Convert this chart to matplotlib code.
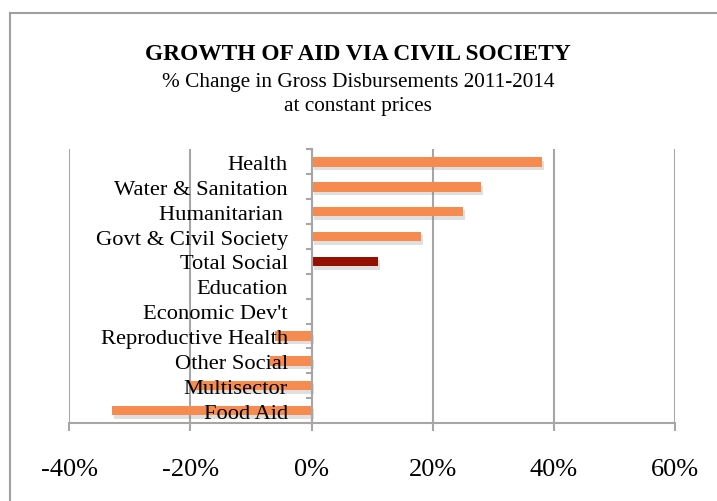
import matplotlib.pyplot as plt
import matplotlib.patheffects as pe
from matplotlib.lines import Line2D
from matplotlib.ticker import PercentFormatter

plt.rcParams['font.family'] = ['Liberation Serif', 'DejaVu Serif']
plt.rcParams['axes.unicode_minus'] = False

sectors = ["Health", "Water & Sanitation", "Humanitarian ", "Govt & Civil Society",
           "Total Social", "Education", "Economic Dev't", "Reproductive Health",
           "Other Social", "Multisector", "Food Aid"]
change_pct = [38.1, 28.0, 25.0, 18.0, 10.9, 0.0, 0.0, -6.0, -6.8, -20.0, -33.0]
highlight = "Total Social"
x_ticks = [-40, -20, 0, 20, 40, 60]

grey = "#a6a6a6"

fig = plt.figure(figsize=(7.17, 5.02), dpi=100)
ax = fig.add_axes([0.0967, 0.1554, 0.8448, 0.5448])

# vertical gridlines sit behind the bars, tick labels stay on top
for x in x_ticks:
    ax.axvline(x, color=grey, lw=1.5, zorder=0.5)

colors = ["#941100" if s == highlight else "#F68B50" for s in sectors]
ypos = list(range(len(sectors)))
bars = ax.barh(ypos, change_pct, height=0.38, color=colors, zorder=1)
for b in bars:
    b.set_path_effects([pe.SimplePatchShadow(offset=(1.5, -2.5), shadow_rgbFace="grey", alpha=0.25),
                        pe.Normal()])

ax.set_xlim(-40, 60)
ax.set_ylim(len(sectors) - 0.5, -0.5)
ax.set_xticks(x_ticks)
ax.xaxis.set_major_formatter(PercentFormatter(decimals=0))

for side in ["top", "right"]:
    ax.spines[side].set_visible(False)
ax.spines["left"].set_position(("data", 0))
for side in ["left", "bottom"]:
    ax.spines[side].set_color(grey)
    ax.spines[side].set_linewidth(1.5)

ax.set_yticks(ypos, sectors)
ax.set_yticks([i - 0.5 for i in range(len(sectors) + 1)], minor=True)
ax.tick_params(axis="y", which="major", length=0, pad=17, labelsize=16.2)
ax.tick_params(axis="y", which="minor", length=4, width=1.5, color=grey)
ax.tick_params(axis="x", length=6, width=1.5, color=grey, pad=19, labelsize=19)

# frame lines around the chart
fig.add_artist(Line2D([10 / 717, 1], [1 - 14 / 502] * 2, color="#a0a0a0", lw=1.5))
fig.add_artist(Line2D([10 / 717] * 2, [0, 1 - 14 / 502], color="#a0a0a0", lw=1.5))

fig.text(0.499, 1 - 54 / 502, "GROWTH OF AID VIA CIVIL SOCIETY", ha="center", va="center",
         fontsize=16.8, fontweight="bold")
fig.text(0.499, 1 - 82 / 502, "% Change in Gross Disbursements 2011-2014", ha="center",
         va="center", fontsize=15.3)
fig.text(0.499, 1 - 106 / 502, "at constant prices", ha="center", va="center", fontsize=15.3)

fig.savefig("out.png", dpi=100)
